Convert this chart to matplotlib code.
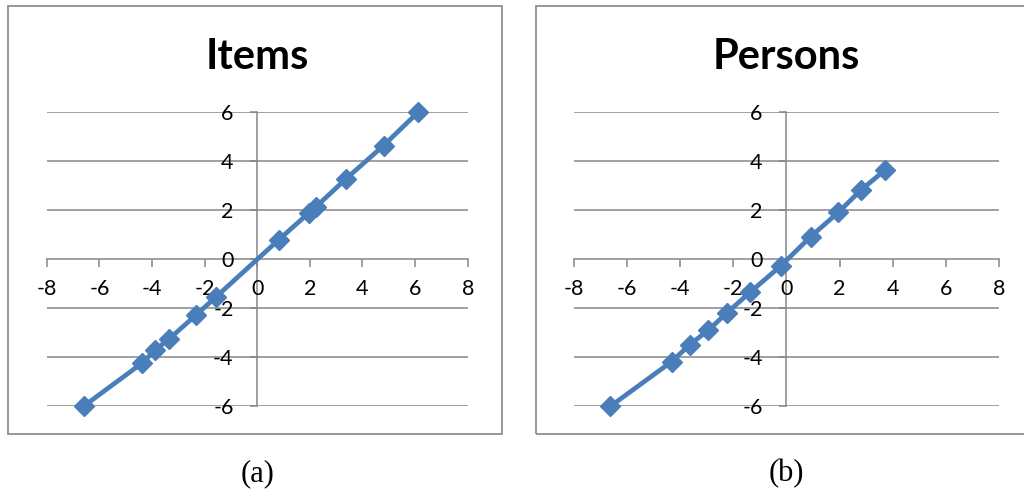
import matplotlib
matplotlib.use("Agg")
import matplotlib.pyplot as plt
from matplotlib.patches import Rectangle

# item and person parameter estimates (x vs y)
items_x = [-6.60, -4.38, -3.87, -3.37, -2.32, -1.56, 0.81, 1.95, 2.24, 3.37, 4.80, 6.13]
items_y = [-6.00, -4.24, -3.70, -3.27, -2.27, -1.53, 0.79, 1.88, 2.15, 3.28, 4.64, 6.02]

persons_x = [-6.62, -4.32, -3.63, -2.93, -2.25, -1.37, -0.20, 0.91, 1.96, 2.81, 3.71]
persons_y = [-6.00, -4.18, -3.48, -2.89, -2.20, -1.35, -0.26, 0.92, 1.92, 2.83, 3.64]

titles = ["Items", "Persons"]
captions = ["(a)", "(b)"]
x_ticks = [-8, -6, -4, -2, 0, 2, 4, 6, 8]
y_ticks = [-6, -4, -2, 0, 2, 4, 6]

W, H = 1024, 493
GRAY = "#868686"
BLUE = "#4a7ebb"

fig = plt.figure(figsize=(W / 100, H / 100), dpi=100)
fig.patch.set_facecolor("white")


def fx(px):
    return px / W


def fy(py):
    return 1 - py / H


def draw_panel(box_left, box_right, ax_left, ax_right, xs, ys, title, caption):
    # outer chart frame
    fig.add_artist(Rectangle((fx(box_left), fy(434)), fx(box_right - box_left), (434 - 6) / H,
                             transform=fig.transFigure, fill=False, edgecolor=GRAY,
                             linewidth=1.2, clip_on=False))

    ax = fig.add_axes([fx(ax_left), fy(406.3), fx(ax_right - ax_left), (406.3 - 112.3) / H])
    ax.set_xlim(-8, 8)
    ax.set_ylim(-6, 6)
    ax.patch.set_alpha(0)

    for v in y_ticks:
        if v != 0:
            ax.axhline(v, color=GRAY, linewidth=1.1, zorder=1)

    for side in ["top", "right"]:
        ax.spines[side].set_visible(False)
    ax.spines["left"].set_position(("data", 0))
    ax.spines["bottom"].set_position(("data", 0))
    for side in ["left", "bottom"]:
        ax.spines[side].set_color(GRAY)
        ax.spines[side].set_linewidth(1.1)
        ax.spines[side].set_zorder(1)

    ax.set_xticks(x_ticks)
    ax.set_yticks(y_ticks)
    ax.set_xticklabels([str(v) for v in x_ticks])
    ax.set_yticklabels([str(v) for v in y_ticks])
    ax.tick_params(axis="x", direction="out", length=5.5, width=1.1, color=GRAY,
                   pad=9, labelsize=15.5)
    ax.tick_params(axis="y", direction="out", length=5, width=1.1, color=GRAY,
                   pad=12, labelsize=15.5)
    for lab in ax.get_xticklabels() + ax.get_yticklabels():
        lab.set_fontfamily("Lato")
        lab.set_zorder(2)

    ax.plot(xs, ys, color=BLUE, linewidth=3.4, marker="D", markersize=10,
            markerfacecolor=BLUE, markeredgecolor=BLUE, zorder=3, clip_on=False)

    center = (ax_left + ax_right) / 2
    fig.text(fx(center), fy(69), title, ha="center", va="baseline",
             fontsize=30, fontweight="bold", fontfamily="Lato")
    fig.text(fx(center), fy(474), caption, ha="center", va="center",
             fontsize=22, fontfamily="Liberation Serif")


draw_panel(8, 502, 46.7, 467.7, items_x, items_y, titles[0], captions[0])
draw_panel(536, 1040, 573.7, 999.0, persons_x, persons_y, titles[1], captions[1])

fig.savefig("out.png", dpi=100)
